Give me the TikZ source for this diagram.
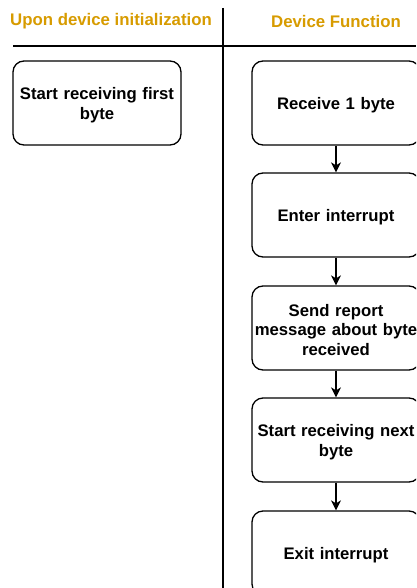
\documentclass[tikz,border=0pt]{standalone}
\usepackage{fontspec}
\setmainfont{Liberation Sans}
\usetikzlibrary{arrows.meta}
\definecolor{hdr}{HTML}{D79B00}
\begin{document}
\begin{tikzpicture}[x=1pt,y=-1pt,
  box/.style={draw=black,line width=1.3pt,rounded corners=11pt,minimum width=168pt,minimum height=84pt,inner sep=0pt},
  txt/.style={align=center,font=\bfseries\fontsize{16.7}{19.7}\selectfont,inner sep=0pt,text width=166pt,yshift=-2pt},
  hdrtext/.style={text=hdr,font=\bfseries\fontsize{16.8}{19}\selectfont,yshift=-2pt},
  arr/.style={-{Stealth[length=10pt,width=10pt,inset=3pt]},line width=1.3pt}]
\useasboundingbox (0,0) rectangle (416,588);
\clip (0,0) rectangle (416,588);
\node[hdrtext] (h1) at (111,19) {Upon device initialization};
\node[hdrtext] (h2) at (336,19) {Device Function};
\coordinate (vt) at (223,8);
\coordinate (vb) at (223,588);
\coordinate (hl) at (13,46);
\coordinate (hr) at (416,46);
\draw[line width=1.3pt] (vt) -- (vb);
\draw[line width=1.3pt] (hl) -- (hr);
\node[box] (s0) at (97,103) {};
\node[txt] (t0) at (s0.center) {Start receiving first\\byte};
\node[box] (b1) at (336,103) {};
\node[txt] (t1) at (b1.center) {Receive 1 byte};
\node[box] (b2) at (336,215) {};
\node[txt] (t2) at (b2.center) {Enter interrupt};
\node[box] (b3) at (336,328) {};
\node[txt] (t3) at (b3.center) {Send report\\message about byte\\received};
\node[box] (b4) at (336,440) {};
\node[txt] (t4) at (b4.center) {Start receiving next\\byte};
\node[box] (b5) at (336,553) {};
\node[txt] (t5) at (b5.center) {Exit interrupt};
\draw[arr] (b1) -- (b2);
\draw[arr] (b2) -- (b3);
\draw[arr] (b3) -- (b4);
\draw[arr] (b4) -- (b5);
\end{tikzpicture}
\end{document}
